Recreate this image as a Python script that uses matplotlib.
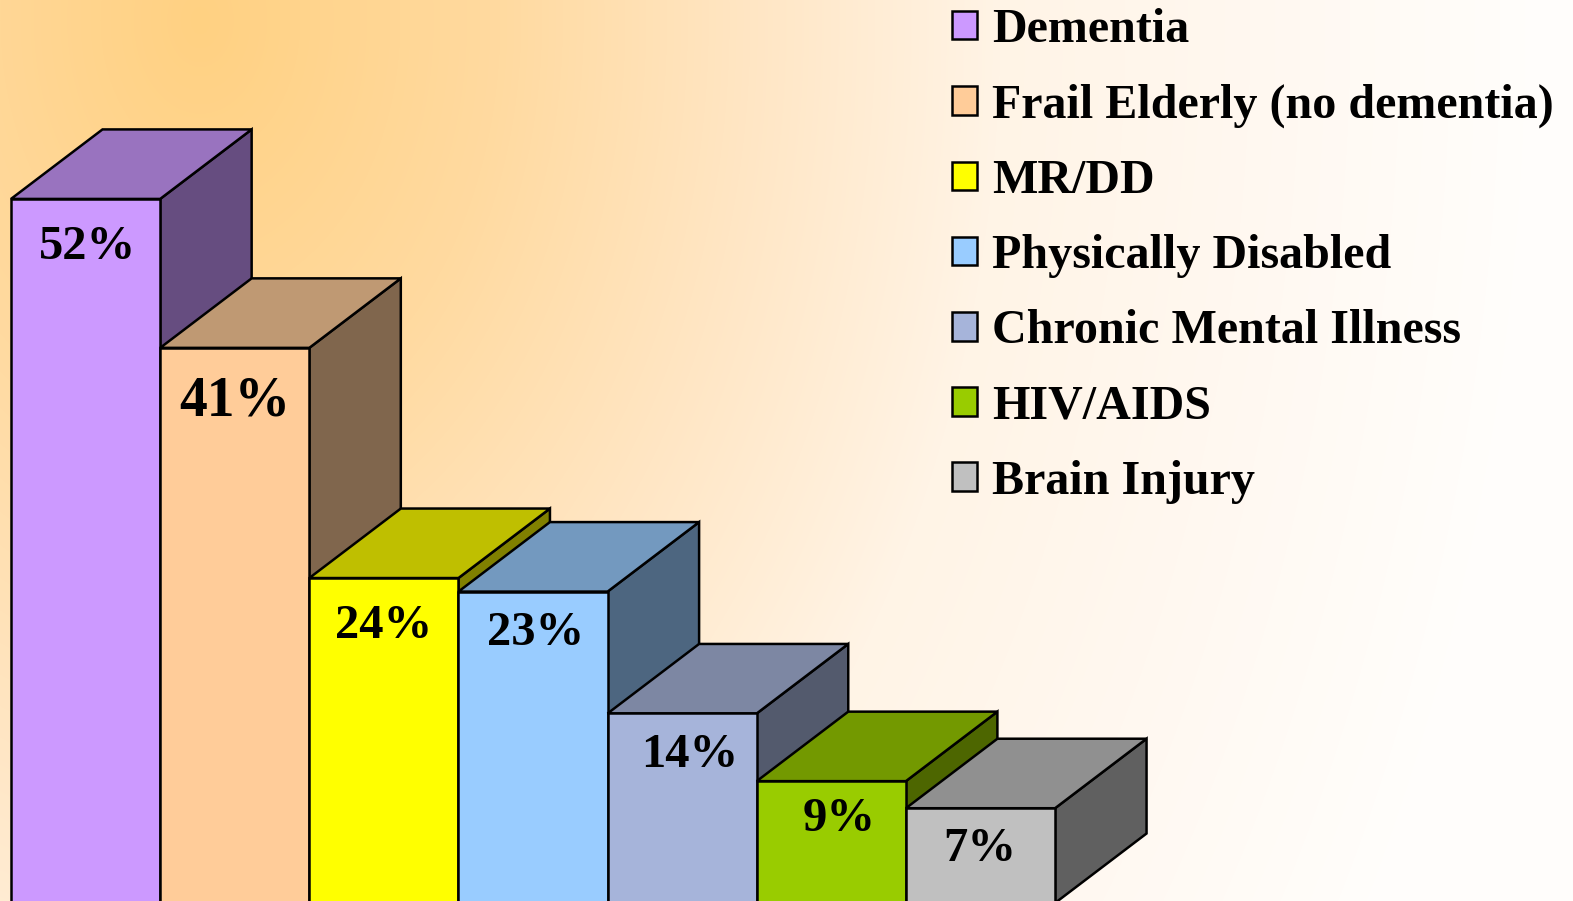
import numpy as np
import matplotlib
matplotlib.use("Agg")
import matplotlib.pyplot as plt
from matplotlib.colors import to_rgb
from matplotlib.patches import Patch, Polygon

categories = ["Dementia", "Frail Elderly (no dementia)", "MR/DD", "Physically Disabled",
              "Chronic Mental Illness", "HIV/AIDS", "Brain Injury"]
values = [52, 41, 24, 23, 14, 9, 7]
labels = ["52%", "41%", "24%", "23%", "14%", "9%", "7%"]
colors = ["#CC99FF", "#FFCC99", "#FFFF00", "#99CCFF", "#A6B4DA", "#99CC00", "#C0C0C0"]
label_dx = [2, 0.5, 0, 2.5, 7.5, 8, -1]
label_dy = [-48, -54, -48, -41, -42, -38, -41]
label_size = [35, 40, 35, 35, 35, 35, 35]

W, H = 1573, 901
fig = plt.figure(figsize=(W / 100, H / 100), dpi=100)
ax = fig.add_axes([0, 0, 1, 1])

unit_x = 149.15
unit_y = 13.54
left_px = 11
zero_px = 903
xlim = (-left_px / unit_x, (W - left_px) / unit_x)
ylim = ((zero_px - H) / unit_y, zero_px / unit_y)

# background gradient
yy, xx = np.mgrid[0:H, 0:W]
t = np.sqrt(((xx - 200) / 1000.0) ** 2 + ((yy - 20) / 1400.0) ** 2)
stops = [0, 0.3, 0.55, 0.8, 1.05, 1.35]
c_g = [0xD1, 0xDA, 0xE6, 0xF4, 0xF8, 0xFE]
c_b = [0x82, 0xA0, 0xC4, 0xE6, 0xF0, 0xFC]
bg = np.dstack([np.full_like(t, 1.0),
                np.interp(t, stops, c_g) / 255,
                np.interp(t, stops, c_b) / 255])
ax.imshow(bg, extent=(xlim[0], xlim[1], ylim[0], ylim[1]), origin="upper", aspect="auto", zorder=0)

depth_x = 91.5 / unit_x
depth_y = 69.5 / unit_y
bar_w = 1.0
edge = dict(edgecolor="black", linewidth=1.8, joinstyle="miter")

for i, (v, c) in enumerate(zip(values, colors)):
    rgb = np.array(to_rgb(c))
    z = 2 + i
    x0, x1 = i, i + bar_w
    ax.add_patch(Polygon([(x1, 0), (x1, v), (x1 + depth_x, v + depth_y), (x1 + depth_x, depth_y)],
                         closed=True, facecolor=rgb * 0.5, zorder=z, **edge))
    ax.add_patch(Polygon([(x0, v), (x1, v), (x1 + depth_x, v + depth_y), (x0 + depth_x, v + depth_y)],
                         closed=True, facecolor=rgb * 0.75, zorder=z, **edge))
    ax.add_patch(Polygon([(x0, 0), (x1, 0), (x1, v), (x0, v)],
                         closed=True, facecolor=c, zorder=z, **edge))

for i, v in enumerate(values):
    ax.annotate(labels[i], xy=(i + 0.5, v), xytext=(label_dx[i], label_dy[i]),
                textcoords="offset pixels", ha="center", va="center",
                fontsize=label_size[i], fontweight="bold", family="Liberation Serif",
                color="black", zorder=20)

ax.set_xlim(xlim)
ax.set_ylim(ylim)
ax.axis("off")

handles = [Patch(facecolor=c, edgecolor="black", linewidth=1.8, label=n) for c, n in zip(colors, categories)]
leg = ax.legend(handles=handles, loc="upper left", bbox_to_anchor=(951.5 / W, 1 - 8 / H),
                bbox_transform=fig.transFigure, frameon=False, borderpad=0, borderaxespad=0,
                prop={"family": "Liberation Serif", "weight": "bold", "size": 34.6},
                handlelength=0.54, handleheight=0.54, handletextpad=0.31, labelspacing=0.65)
leg.set_zorder(30)

fig.savefig("out.png", dpi=100)
